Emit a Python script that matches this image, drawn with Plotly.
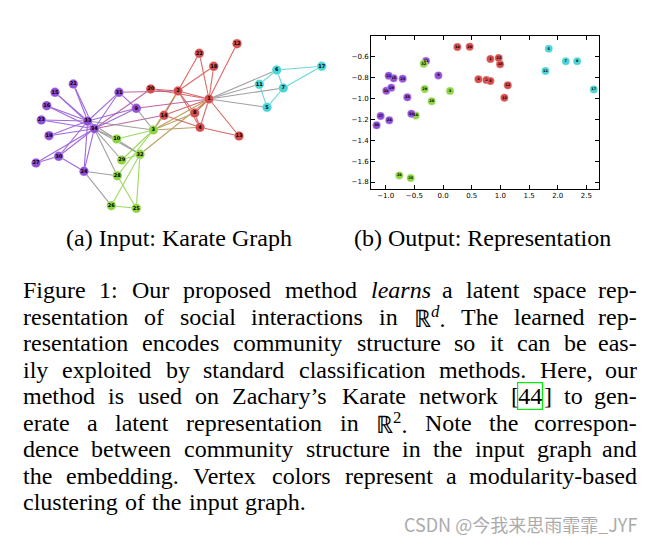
import re
import plotly.graph_objects as go

W, H = 658, 544

# ---------------- data ----------------
node_ids = list(range(1, 35))
# graph layout coordinates (panel a)
layout_x = [0.29, -0.02, -0.267, 0.20, 0.87, 0.967, 1.033, 0.147, -0.437, -0.633,
            0.793, 0.57, 0.59, -0.16, -1.25, -1.333, 1.417, 0.337, -1.31, -0.293,
            -1.067, 0.193, -1.387, -0.96, -0.437, -0.687, -1.44, -0.627, -0.583, -1.213,
            -0.61, -0.40, -0.923, -0.857]
layout_y = [0.31, 0.39, 0.0, 0.027, 0.227, 0.60, 0.42, 0.17, 0.217, -0.09,
            0.457, 0.863, -0.06, 0.147, 0.377, 0.243, 0.637, 0.637, -0.057, 0.41,
            0.46, 0.767, 0.10, -0.413, -0.783, -0.757, -0.33, -0.457, -0.30, -0.263,
            0.377, -0.243, 0.09, 0.013]
community = ['red', 'red', 'green', 'red', 'cyan', 'cyan', 'cyan', 'red', 'purple', 'green',
             'cyan', 'red', 'red', 'red', 'purple', 'purple', 'cyan', 'red', 'purple', 'red',
             'purple', 'red', 'purple', 'purple', 'green', 'green', 'purple', 'green', 'green', 'purple',
             'purple', 'green', 'purple', 'purple']
edges = [(1, 2), (1, 3), (1, 4), (1, 5), (1, 6), (1, 7), (1, 8), (1, 9), (1, 11), (1, 12), (1, 13),
         (1, 14), (1, 18), (1, 20), (1, 22), (1, 32),
         (2, 3), (2, 4), (2, 8), (2, 14), (2, 18), (2, 20), (2, 22), (2, 31),
         (3, 4), (3, 8), (3, 9), (3, 10), (3, 14), (3, 28), (3, 29), (3, 33),
         (4, 8), (4, 13), (4, 14), (5, 7), (5, 11), (6, 7), (6, 11), (6, 17), (7, 17),
         (9, 31), (9, 33), (9, 34), (10, 34), (14, 34), (15, 33), (15, 34), (16, 33), (16, 34),
         (19, 33), (19, 34), (20, 34), (21, 33), (21, 34), (23, 33), (23, 34),
         (24, 26), (24, 28), (24, 30), (24, 33), (24, 34), (25, 26), (25, 28), (25, 32), (26, 32),
         (27, 30), (27, 34), (28, 34), (29, 32), (29, 34), (30, 33), (30, 34), (31, 33), (31, 34),
         (32, 33), (32, 34), (33, 34)]

# learned 2-D embedding (panel b)
emb_x = [0.826, 0.756, 0.122, 0.617, 1.844, 2.339, 2.141, 0.826, -0.081, -0.477,
         1.786, 1.129, 1.070, 0.25, -0.861, -0.989, 2.629, 0.995, -0.902, 0.465,
         -0.948, 0.971, -0.704, -0.937, -0.564, -0.762, -1.088, -0.198, -0.320, -1.158,
         -0.297, -0.337, -0.622, -0.553]
emb_y = [-0.625, -0.826, -0.931, -0.820, -0.527, -0.648, -0.648, -0.836, -0.782, -1.164,
         -0.740, -0.877, -0.995, -0.511, -0.810, -0.928, -0.918, -0.676, -0.899, -0.508,
         -0.785, -0.616, -0.813, -1.211, -1.762, -1.737, -1.170, -1.030, -0.912, -1.259,
         -0.645, -0.670, -0.992, -1.148]

x_ticks = [-1.0, -0.5, 0.0, 0.5, 1.0, 1.5, 2.0, 2.5]
y_ticks = [-0.6, -0.8, -1.0, -1.2, -1.4, -1.6, -1.8]

caption_a = "(a) Input: Karate Graph"
caption_b = "(b) Output: Representation"
paragraph_lines = [
    "Figure 1: Our proposed method <i>learns</i> a latent space rep-",
    "resentation of social interactions in ℝ<sup><i>d</i></sup>. The learned rep-",
    "resentation encodes community structure so it can be eas-",
    "ily exploited by standard classification methods. Here, our",
    "method is used on Zachary’s Karate network [44] to gen-",
    "erate a latent representation in ℝ<sup>2</sup>. Note the correspon-",
    "dence between community structure in the input graph and",
    "the embedding. Vertex colors represent a modularity-based",
    "clustering of the input graph.",
]
citation = "44"
watermark = "CSDN @今我来思雨霏霏_JYF"

# ---------------- styles ----------------
RGB = {'red': (214, 76, 76), 'purple': (145, 78, 214), 'green': (140, 212, 66), 'cyan': (76, 212, 212)}


def hexc(c):
    return 'rgb(%d,%d,%d)' % c


def px(x):
    return x / W


def py(y):
    return 1 - y / H


fig = go.Figure()

# ---- panel a : edges grouped by blended colour ----
groups = {}
for a, b in edges:
    ca, cb = RGB[community[a - 1]], RGB[community[b - 1]]
    col = tuple(int(round((u + v) / 2)) for u, v in zip(ca, cb))
    gx, gy = groups.setdefault(col, ([], []))
    gx += [layout_x[a - 1], layout_x[b - 1], None]
    gy += [layout_y[a - 1], layout_y[b - 1], None]
for col, (gx, gy) in groups.items():
    fig.add_trace(go.Scatter(x=gx, y=gy, mode='lines', xaxis='x2', yaxis='y2',
                             line=dict(color=hexc(col), width=1.1), opacity=0.85,
                             hoverinfo='skip', showlegend=False))

fig.add_trace(go.Scatter(
    x=layout_x, y=layout_y, xaxis='x2', yaxis='y2', mode='markers+text',
    marker=dict(size=9.5, color=[hexc(RGB[c]) for c in community],
                line=dict(width=0.6, color='rgba(255,255,255,0.5)')),
    text=['<b>%d</b>' % i for i in node_ids], textposition='middle center',
    textfont=dict(size=5, color='black', family='DejaVu Sans'),
    showlegend=False, hoverinfo='skip'))

# ---- panel b : embedding scatter ----
fig.add_trace(go.Scatter(
    x=emb_x, y=emb_y, xaxis='x', yaxis='y', mode='markers+text',
    marker=dict(size=8, color=[hexc(RGB[c]) for c in community],
                line=dict(width=0.6, color='rgba(255,255,255,0.5)')),
    text=['<b>%d</b>' % i for i in node_ids], textposition='middle center',
    textfont=dict(size=3.5, color='black', family='DejaVu Sans'),
    showlegend=False, hoverinfo='skip'))

axis_common = dict(showgrid=False, zeroline=False, showline=True, linecolor='black', linewidth=1,
                   mirror='ticks', ticks='inside', ticklen=4, tickwidth=0.8, tickcolor='black',
                   tickfont=dict(family='DejaVu Sans', size=7, color='black'))

fig.update_layout(
    width=W, height=H, margin=dict(l=0, r=0, t=0, b=0),
    paper_bgcolor='white', plot_bgcolor='rgba(0,0,0,0)',
    xaxis=dict(domain=[px(371), px(599)], range=[-1.256, 2.72], tickvals=x_ticks,
               tickformat='.1f', anchor='y', **axis_common),
    yaxis=dict(domain=[py(188.7), py(36)], range=[-1.864, -0.406], tickvals=y_ticks,
               tickformat='.1f', anchor='x', **axis_common),
    xaxis2=dict(domain=[0, 1], range=[-1.8, 4.78], visible=False, anchor='y2'),
    yaxis2=dict(domain=[0, 1], range=[-4.14, 1.3], visible=False, anchor='x2'),
)

# ---------------- text ----------------
SERIF = 'Liberation Serif'
FS = 24
TIMES = {' ': 250, ':': 278, '.': 250, ',': 250, '-': 333, '’': 333, '[': 333, ']': 333, 'ℝ': 722,
         'A': 722, 'F': 556, 'H': 722, 'K': 722, 'N': 722, 'O': 722, 'R': 667, 'T': 611, 'V': 722, 'Z': 611,
         'a': 444, 'b': 500, 'c': 444, 'd': 500, 'e': 444, 'f': 333, 'g': 500, 'h': 500, 'i': 278,
         'j': 278, 'k': 500, 'l': 278, 'm': 778, 'n': 500, 'o': 500, 'p': 500, 'q': 500, 'r': 333,
         's': 389, 't': 278, 'u': 500, 'v': 500, 'w': 722, 'x': 500, 'y': 500, 'z': 444}


def width_px(s, fs=FS):
    tot, scale = 0.0, 1.0
    for tok in re.split(r'(<[^>]+>)', s):
        if tok.startswith('<'):
            if tok == '<sup>':
                scale = 0.7
            elif tok == '</sup>':
                scale = 1.0
            continue
        for ch in tok:
            tot += TIMES.get(ch, 500) * scale
    return tot / 1000 * fs


def word_ann(text, x, y, anchor='left', **kw):
    fig.add_annotation(text=text, x=px(x), y=py(y), xref='paper', yref='paper',
                       xanchor=anchor, yanchor='middle', showarrow=False, borderpad=0,
                       font=dict(family=SERIF, size=FS, color='black'), **kw)


L, R = 22, 638
line_y0, line_dy = 290, 26.5
for li, line in enumerate(paragraph_lines):
    y = line_y0 + li * line_dy
    words = line.split()
    ws = [width_px(w) for w in words]
    if li == len(paragraph_lines) - 1:
        gap = width_px(' ') * 1.2
    else:
        gap = (R - L - sum(ws)) / (len(words) - 1)
    x = L
    for k, (w, wpx) in enumerate(zip(words, ws)):
        last = (k == len(words) - 1) and li != len(paragraph_lines) - 1
        if w == '[' + citation + ']':
            wb = width_px('[')
            word_ann('[', x, y)
            word_ann(citation, x + wb - 1, y, bordercolor='#00ee00', borderwidth=1.2)
            word_ann(']', x + width_px('[' + citation) + 1, y)
        elif last:
            word_ann(w, R, y, anchor='right')
        else:
            word_ann(w, x, y)
        x += wpx + gap

for cap, cx in [(caption_a, 179), (caption_b, 482)]:
    fig.add_annotation(text=cap, x=px(cx), y=py(238), xref='paper', yref='paper',
                       xanchor='center', yanchor='middle', showarrow=False,
                       font=dict(family=SERIF, size=FS, color='black'))

fig.add_annotation(text=watermark, x=px(639), y=py(524), xref='paper', yref='paper',
                   xanchor='right', yanchor='middle', showarrow=False,
                   font=dict(family='Noto Sans CJK SC', size=18, color='#ababab'))

fig.write_html('out.html', config={'displayModeBar': False},
               post_script="document.body.style.margin='0';")
